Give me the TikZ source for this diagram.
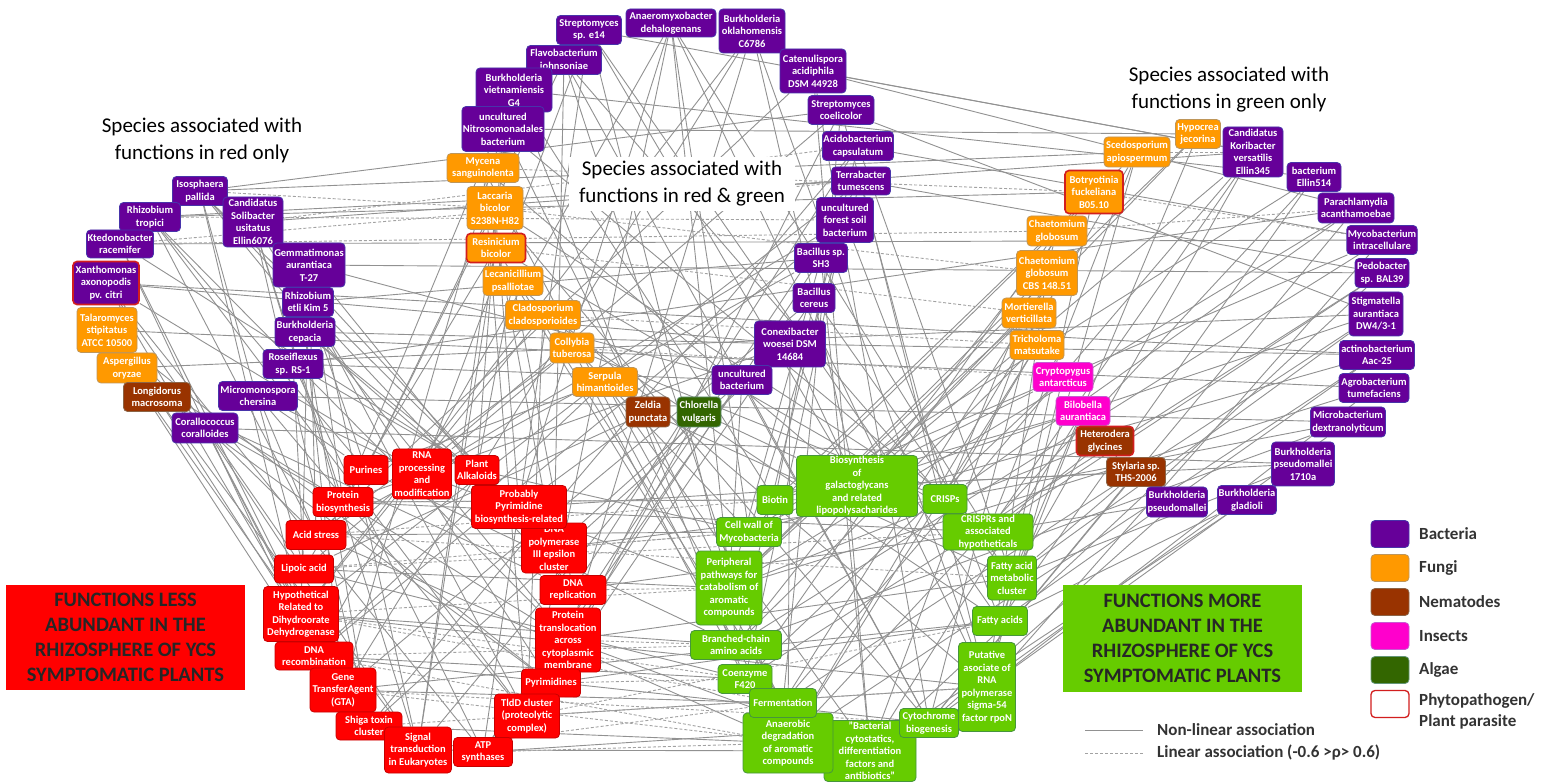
\documentclass[tikz,border=0pt]{standalone}
\usepackage{fontspec}
\setmainfont{Carlito}
\usetikzlibrary{backgrounds}
\definecolor{bact}{RGB}{102,0,153}
\definecolor{bactline}{RGB}{72,52,170}
\definecolor{fung}{RGB}{255,153,0}
\definecolor{fungline}{RGB}{190,150,90}
\definecolor{nema}{RGB}{153,51,0}
\definecolor{nemaline}{RGB}{140,100,70}
\definecolor{inse}{RGB}{255,0,204}
\definecolor{inseline}{RGB}{200,90,210}
\definecolor{alga}{RGB}{51,102,0}
\definecolor{algaline}{RGB}{100,150,120}
\definecolor{redf}{RGB}{255,0,0}
\definecolor{redfline}{RGB}{200,0,0}
\definecolor{grnf}{RGB}{102,204,0}
\definecolor{grnfline}{RGB}{70,150,60}
\definecolor{phyto}{RGB}{210,30,30}
\definecolor{edgegray}{RGB}{145,145,145}
\tikzset{
  box/.style={rounded corners=4pt, align=center, text=white, font=\fontsize{10.5}{12.5}\selectfont\bfseries, inner sep=1pt, line width=0.8pt},
  bac/.style={box, fill=bact, draw=bactline},
  fun/.style={box, fill=fung, draw=fungline},
  nem/.style={box, fill=nema, draw=nemaline},
  ins/.style={box, fill=inse, draw=inseline},
  alg/.style={box, fill=alga, draw=algaline},
  rf/.style={box, fill=redf, draw=redfline},
  gf/.style={box, fill=grnf, draw=grnfline},
  phyto/.style={draw=phyto, line width=1.6pt},
  sz/.style n args={2}{minimum width=#1pt, minimum height=#2pt},
  edge/.style={draw=edgegray, line width=0.9pt},
  ledge/.style={draw=edgegray!85, line width=0.9pt, dash pattern=on 3pt off 2pt},
  title/.style={align=center, font=\fontsize{21}{27}\selectfont, text=black},
  bigbox/.style={align=center, font=\fontsize{20.5}{25}\selectfont\bfseries, text=black!85, inner sep=0pt},
  legsq/.style={rounded corners=4pt, minimum width=38pt, minimum height=27pt, inner sep=0pt, line width=0.8pt},
  legtext/.style={anchor=west, font=\fontsize{17}{21}\selectfont\bfseries, text=black!80, align=left, inner sep=0pt},
}
\begin{document}
\begin{tikzpicture}[x=1pt,y=-1pt]
\useasboundingbox (0,0) rectangle (1543,783);
% ---------- left group (red only) ----------
\node[bac,sz={55}{29}] (iso) at (200,191) {Isosphaera\\pallida};
\node[bac,sz={61}{29}] (rtrop) at (150,217) {Rhizobium\\tropici};
\node[bac,sz={60}{50}] (cand) at (253,222) {Candidatus\\Solibacter\\usitatus\\Ellin6076};
\node[bac,sz={67}{28}] (kted) at (120,244) {Ktedonobacter\\racemifer};
\node[bac,phyto,sz={66}{43}] (xan) at (106,283) {Xanthomonas\\axonopodis\\pv. citri};
\node[bac,sz={72}{44}] (gem) at (309,265) {Gemmatimonas\\aurantiaca\\T-27};
\node[bac,sz={51}{29}] (retli) at (308,302) {Rhizobium\\etli Kim 5};
\node[fun,sz={60}{45}] (tal) at (107,330) {Talaromyces\\stipitatus\\ATCC 10500};
\node[bac,sz={60}{29}] (bcep) at (305,332) {Burkholderia\\cepacia};
\node[fun,sz={60}{30}] (asp) at (127,368) {Aspergillus\\oryzae};
\node[bac,sz={60}{29}] (rose) at (293,364) {Roseiflexus\\sp. RS-1};
\node[nem,sz={67}{29}] (longi) at (157,397) {Longidorus\\macrosoma};
\node[bac,sz={79}{29}] (micro) at (258,396) {Micromonospora\\chersina};
\node[bac,sz={66}{30}] (cora) at (205,428) {Corallococcus\\coralloides};
% ---------- top group (red & green) ----------
\node[bac,sz={65}{29}] (sstrep) at (589,30) {Streptomyces\\sp. e14};
\node[bac,sz={90}{28}] (anaero) at (671,23) {Anaeromyxobacter\\dehalogenans};
\node[bac,sz={66}{44}] (bokla) at (752,31) {Burkholderia\\oklahomensis\\C6786};
\node[bac,sz={75}{29}] (flavo) at (564,60) {Flavobacterium\\johnsoniae};
\node[bac,sz={66}{44}] (caten) at (813,71) {Catenulispora\\acidiphila\\DSM 44928};
\node[bac,sz={76}{44}] (bviet) at (514,90) {Burkholderia\\vietnamiensis\\G4};
\node[bac,sz={81}{45}] (nitro) at (503,129) {uncultured\\Nitrosomonadales\\bacterium};
\node[bac,sz={66}{29}] (scoel) at (841,110) {Streptomyces\\coelicolor};
\node[bac,sz={71}{29}] (acido) at (858,146) {Acidobacterium\\capsulatum};
\node[bac,sz={59}{28}] (terra) at (861,181) {Terrabacter\\tumescens};
\node[bac,sz={57}{45}] (ufor) at (845,220) {uncultured\\forest soil\\bacterium};
\node[bac,sz={53}{29}] (bsh3) at (821,258) {Bacillus sp.\\SH3};
\node[bac,sz={42}{29}] (bcer) at (814,298) {Bacillus\\cereus};
\node[bac,sz={71}{46}] (conex) at (790,344) {Conexibacter\\woesei DSM\\14684};
\node[bac,sz={60}{29}] (ubact) at (742,380) {uncultured\\bacterium};
\node[fun,sz={72}{29}] (myc) at (483,168) {Mycena\\sanguinolenta};
\node[fun,sz={56}{43}] (lacc) at (495,208) {Laccaria\\bicolor\\S238N-H82};
\node[fun,phyto,sz={59}{29}] (resin) at (496,248) {Resinicium\\bicolor};
\node[fun,sz={60}{29}] (lecan) at (513,281) {Lecanicillium\\psalliotae};
\node[fun,sz={75}{29}] (clado) at (543,315) {Cladosporium\\cladosporioides};
\node[fun,sz={44}{30}] (coll) at (572,348) {Collybia\\tuberosa};
\node[fun,sz={65}{29}] (serp) at (605,382) {Serpula\\himantioides};
\node[nem,sz={44}{30}] (zeld) at (648,412) {Zeldia\\punctata};
\node[alg,sz={44}{30}] (chlor) at (699,412) {Chlorella\\vulgaris};
% ---------- right group (green only) ----------
\node[fun,sz={45}{29}] (hypo) at (1198,134) {Hypocrea\\jecorina};
\node[fun,sz={66}{30}] (scedo) at (1137,152) {Scedosporium\\apiospermum};
\node[fun,phyto,sz={58}{43}] (botry) at (1094,192) {Botryotinia\\fuckeliana\\B05.10};
\node[fun,sz={60}{30}] (chg) at (1057,231) {Chaetomium\\globosum};
\node[fun,sz={61}{45}] (chg2) at (1047,273) {Chaetomium\\globosum\\CBS 148.51};
\node[fun,sz={54}{30}] (mort) at (1029,313) {Mortierella\\verticillata};
\node[fun,sz={54}{29}] (trich) at (1037,345) {Tricholoma\\matsutake};
\node[ins,sz={60}{29}] (crypt) at (1063,377) {Cryptopygus\\antarcticus};
\node[ins,sz={54}{29}] (bilo) at (1083,411) {Bilobella\\aurantiaca};
\node[nem,phyto,sz={57}{29}] (hetero) at (1105,441) {Heterodera\\glycines};
\node[nem,sz={59}{29}] (styl) at (1136,472) {Stylaria sp.\\THS-2006};
\node[bac,sz={60}{50}] (kori) at (1253,152) {Candidatus\\Koribacter\\versatilis\\Ellin345};
\node[bac,sz={54}{29}] (ell514) at (1314,177) {bacterium\\Ellin514};
\node[bac,sz={76}{30}] (parach) at (1356,208) {Parachlamydia\\acanthamoebae};
\node[bac,sz={70}{29}] (mycob) at (1382,240) {Mycobacterium\\intracellulare};
\node[bac,sz={54}{29}] (pedo) at (1382,273) {Pedobacter\\sp. BAL39};
\node[bac,sz={54}{44}] (stig) at (1376,314) {Stigmatella\\aurantiaca\\DW4/3-1};
\node[bac,sz={75}{29}] (actino) at (1377,355) {actinobacterium\\Aac-25};
\node[bac,sz={70}{29}] (agro) at (1374,388) {Agrobacterium\\tumefaciens};
\node[bac,sz={75}{30}] (microb) at (1348,422) {Microbacterium\\dextranolyticum};
\node[bac,sz={63}{44}] (bp1710) at (1303,464) {Burkholderia\\pseudomallei\\1710a};
\node[bac,sz={59}{29}] (bglad) at (1247,500) {Burkholderia\\gladioli};
\node[bac,sz={61}{30}] (bpseu) at (1177,502) {Burkholderia\\pseudomallei};
% ---------- red functions ----------
\node[rf,sz={44}{29}] (pur) at (366,470) {Purines};
\node[rf,sz={59}{50}] (rna) at (422,474) {RNA\\processing\\and\\modification};
\node[rf,sz={44}{29}] (alk) at (477,470) {Plant\\Alkaloids};
\node[rf,sz={60}{29}] (prot) at (343,502) {Protein\\biosynthesis};
\node[rf,sz={65}{50}] (dnapol) at (554,548) {DNA\\polymerase\\III epsilon\\cluster};
\node[rf,sz={95}{43}] (prob) at (519,507) {Probably\\Pyrimidine\\biosynthesis-related};
\node[rf,sz={60}{29}] (acid) at (316,535) {Acid stress};
\node[rf,sz={59}{28}] (lip) at (304,569) {Lipoic acid};
\node[rf,sz={66}{29}] (dnarep) at (573,590) {DNA\\replication};
\node[rf,sz={75}{55}] (hyp) at (301,614) {Hypothetical\\Related to\\Dihydroorate\\Dehydrogenase};
\node[rf,sz={65}{64}] (ptrans) at (568,640) {Protein\\translocation\\across\\cytoplasmic\\membrane};
\node[rf,sz={78}{28}] (dnarec) at (314,656) {DNA\\recombination};
\node[rf,sz={59}{28}] (pyr) at (551,683) {Pyrimidines};
\node[rf,sz={66}{44}] (gta) at (343,690) {Gene\\TransferAgent\\(GTA)};
\node[rf,sz={65}{44}] (tldd) at (527,716) {TldD cluster\\(proteolytic\\complex)};
\node[rf,sz={66}{28}] (shiga) at (369,726) {Shiga toxin\\cluster};
\node[rf,sz={67}{46}] (sig) at (418,750) {Signal\\transduction\\in Eukaryotes};
\node[rf,sz={59}{29}] (atp) at (483,752) {ATP\\synthases};
% ---------- green functions ----------
\node[gf,sz={121}{61}] (bios) at (857,486) {Biosynthesis\\of\\galactoglycans\\and related\\lipopolysacharides};
\node[gf,sz={36}{29}] (biot) at (775,500) {Biotin};
\node[gf,sz={44}{29}] (crisp) at (945,499) {CRISPs};
\node[gf,sz={65}{29}] (cellw) at (749,532) {Cell wall of\\Mycobacteria};
\node[gf,sz={90}{35}] (crispr) at (988,532) {CRISPRs and\\associated\\hypotheticals};
\node[gf,sz={66}{74}] (periph) at (729,588) {Peripheral\\pathways for\\catabolism of\\aromatic\\compounds};
\node[gf,sz={49}{44}] (fattyc) at (1012,578) {Fatty acid\\metabolic\\cluster};
\node[gf,sz={55}{29}] (fatty) at (1000,621) {Fatty acids};
\node[gf,sz={91}{29}] (branch) at (736,645) {Branched-chain\\amino acids};
\node[gf,sz={57}{89}] (putat) at (987,687) {Putative\\asociate of\\RNA\\polymerase\\sigma-54\\factor rpoN};
\node[gf,sz={92}{61}] (bact) at (870,751) {"Bacterial\\cytostatics,\\differentiation\\factors and\\antibiotics"};
\node[gf,sz={90}{60}] (anaer) at (788,743) {Anaerobic\\degradation\\of aromatic\\compounds};
\node[gf,sz={54}{29}] (coenz) at (745,679) {Coenzyme\\F420};
\node[gf,sz={67}{29}] (ferm) at (783,703) {Fermentation};
\node[gf,sz={59}{29}] (cyto) at (929,723) {Cytochrome\\biogenesis};
% ---------- titles ----------
\node[title] (t1) at (202,140) {Species associated with\\functions in red only};
\node[title, fill=white, inner xsep=10pt, inner ysep=4pt] (t2) at (682,184) {Species associated with\\functions in red \& green};
\node[title] (t3) at (1229,90) {Species associated with\\functions in green only};
% ---------- big boxes ----------
\node[bigbox, fill=redf, minimum width=239pt, minimum height=105pt] (lessbox) at (125.5,637.5) {FUNCTIONS LESS\\ABUNDANT IN THE\\RHIZOSPHERE OF YCS\\SYMPTOMATIC PLANTS};
\node[bigbox, fill=grnf, minimum width=239pt, minimum height=107pt] (morebox) at (1182.5,638.5) {FUNCTIONS MORE\\ABUNDANT IN THE\\RHIZOSPHERE OF YCS\\SYMPTOMATIC PLANTS};
% ---------- legend ----------
\node[legsq, fill=bact, draw=bactline] (lg1) at (1390,534) {};
\node[legsq, fill=fung, draw=fungline] (lg2) at (1390,568) {};
\node[legsq, fill=nema, draw=nemaline] (lg3) at (1390,602) {};
\node[legsq, fill=inse, draw=inseline] (lg4) at (1390,636) {};
\node[legsq, fill=alga, draw=algaline] (lg5) at (1390,670) {};
\node[legsq, fill=white, draw=phyto, line width=1.3pt] (lg6) at (1390,704) {};
\node[legtext] (lt1) at (1419,534) {Bacteria};
\node[legtext] (lt2) at (1419,568) {Fungi};
\node[legtext] (lt3) at (1419,602) {Nematodes};
\node[legtext] (lt4) at (1419,636) {Insects};
\node[legtext] (lt5) at (1419,670) {Algae};
\node[legtext] (lt6) at (1419,711) {Phytopathogen/\\Plant parasite};
\coordinate (l1a) at (1085,730); \coordinate (l1b) at (1143,730);
\coordinate (l2a) at (1085,753); \coordinate (l2b) at (1143,753);
\node[legtext] (lt7) at (1157,730) {Non-linear association};
\node[legtext] (lt8) at (1157,753) {Linear association (-0.6 >ρ> 0.6)};
\draw[edge] (l1a) -- (l1b);
\draw[ledge] (l2a) -- (l2b);
% ---------- connectors ----------
\begin{scope}[on background layer]
\fill[white] (0,0) rectangle (1543,783);
\foreach \src/\lst in {
 iso/{hyp,dnarep,prob,scoel,lip,ptrans},
 rtrop/{ptrans,acid,tldd,terra,pur},
 cand/{shiga,pyr,dnapol,kori,prot,sig},
 kted/{gta,dnarec,alk,mycob},
 xan/{lip,atp,rna,conex,hyp},
 gem/{sig,prot,dnarep,ubact,pedo,acid},
 retli/{hyp,tldd,pur,bsh3},
 tal/{acid,pyr,sig,agro},
 bcep/{gta,prob,dnapol,conex,shiga},
 asp/{hyp,dnarec,ptrans,stig},
 rose/{lip,atp,alk,ubact,parach},
 longi/{shiga,prot,dnarep},
 micro/{acid,tldd,pur,rna,microb},
 cora/{hyp,gta,sig,pyr,bp1710},
 sstrep/{rna,bios,periph,atp,fatty,kori},
 anaero/{prob,crispr,branch,dnarec,cellw,tldd,putat},
 bokla/{ptrans,bios,putat,hyp,gta},
 flavo/{pur,anaer,dnapol,fattyc,cyto},
 caten/{acid,bact,cyto,parach,kori},
 bviet/{prot,biot,coenz,sig,ell514},
 scoel/{lip,crisp,ferm,pyr,stig},
 nitro/{gta,periph,alk,crispr,hypo},
 acido/{dnarep,fattyc,shiga,branch,mycob},
 terra/{hyp,putat,atp,cellw,pedo},
 myc/{dnapol,bios,tldd,anaer},
 ufor/{rna,fatty,dnarec,coenz},
 lacc/{prob,cyto,pur,crisp},
 bsh3/{ptrans,periph,acid,bact},
 resin/{sig,crispr,lip,ferm},
 bcer/{gta,biot,pyr,fattyc},
 lecan/{alk,branch,dnarep,putat},
 conex/{shiga,bios,prot,anaer,actino},
 clado/{hyp,cellw,tldd,fatty},
 coll/{acid,coenz,rna,crisp},
 ubact/{dnapol,periph,atp,cyto},
 serp/{pur,bact,dnarec,ferm},
 zeld/{prob,fattyc,lip},
 chlor/{pyr,bios,sig},
 hypo/{bios,fattyc,periph},
 scedo/{crispr,cellw,putat,anaer,iso},
 botry/{fatty,branch,biot,rtrop},
 chg/{cyto,crisp,coenz},
 chg2/{putat,bact,periph},
 kori/{bios,ferm,fattyc,crispr},
 ell514/{cellw,fatty,anaer},
 parach/{periph,crisp,cyto},
 mycob/{branch,putat,biot},
 pedo/{coenz,crispr,bact},
 stig/{fattyc,ferm,bios},
 actino/{anaer,fatty,cellw,xan},
 agro/{putat,periph},
 microb/{crisp,branch,cyto},
 bp1710/{fattyc,bact,bios},
 bglad/{fatty,putat},
 bpseu/{crispr,cyto},
 mort/{bios,ferm,periph},
 trich/{branch,anaer,crisp},
 crypt/{cellw,putat,coenz},
 bilo/{biot,fatty,bact},
 hetero/{crispr,periph},
 styl/{cyto,bios,fattyc},
 prot/{biot,crispr},
 acid/{cellw,anaer},
 lip/{periph,coenz},
 hyp/{branch,putat},
 dnarec/{coenz,cyto},
 gta/{ferm,fatty},
 shiga/{anaer},
 sig/{bact},
 atp/{cyto},
 tldd/{putat},
 pyr/{fatty},
 ptrans/{fattyc,bact},
 dnarep/{crispr},
 dnapol/{crisp},
 prob/{bios},
 rna/{periph},
 pur/{branch},
 alk/{cellw}}
 {\foreach \dst in \lst {\draw[edge] (\src) -- (\dst);}}
\foreach \src/\lst in {
 kted/{chg,terra},
 rtrop/{ufor},
 cand/{acido},
 iso/{lacc},
 myc/{botry},
 lacc/{chg2},
 resin/{mort},
 clado/{trich},
 coll/{crypt},
 botry/{mycob},
 scedo/{kori},
 chg/{parach},
 hyp/{coenz,ferm,periph},
 dnarec/{branch,anaer},
 gta/{bact,cyto},
 acid/{biot,fattyc},
 lip/{cellw,crispr},
 prot/{crisp},
 shiga/{putat},
 sig/{ferm},
 tldd/{fatty},
 pyr/{coenz},
 ptrans/{branch},
 dnarep/{periph},
 atp/{anaer},
 dnapol/{cellw}}
 {\foreach \dst in \lst {\draw[ledge] (\src) -- (\dst);}}
\end{scope}
\end{tikzpicture}
\end{document}
